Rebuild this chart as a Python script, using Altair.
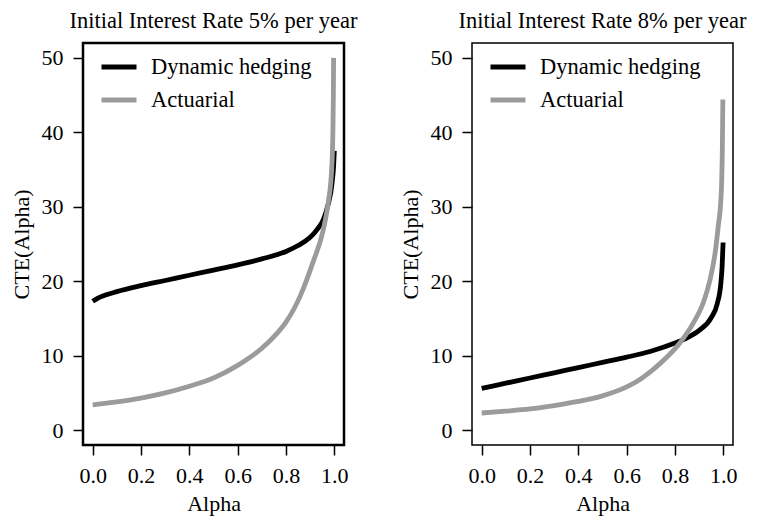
import altair as alt
import pandas as pd

# ---- data ----
SERIES = ["Dynamic hedging", "Actuarial"]
COLORS = ["#000000", "#9b9b9b"]

X_TICKS = [0.0, 0.2, 0.4, 0.6, 0.8, 1.0]
Y_TICKS = [0, 10, 20, 30, 40, 50]

TITLE_5 = "Initial Interest Rate 5% per year"
TITLE_8 = "Initial Interest Rate 8% per year"

# 5% panel
alpha_dyn_5 = [0.00, 0.02, 0.05, 0.10, 0.20, 0.30, 0.40, 0.50, 0.60, 0.70, 0.80, 0.85, 0.90, 0.93, 0.955, 0.975, 0.99, 0.997, 1.00]
cte_dyn_5 = [17.3, 17.7, 18.1, 18.6, 19.4, 20.1, 20.8, 21.5, 22.2, 23.0, 24.0, 24.8, 25.9, 27.0, 28.3, 30.4, 33.0, 35.5, 37.5]
alpha_act_5 = [0.00, 0.10, 0.20, 0.30, 0.40, 0.50, 0.60, 0.70, 0.76, 0.80, 0.86, 0.91, 0.955, 0.975, 0.989, 0.994, 0.996, 0.997]
cte_act_5 = [3.4, 3.8, 4.3, 5.0, 5.9, 7.0, 8.7, 11.0, 12.9, 14.5, 18.1, 22.4, 27.0, 30.6, 35.1, 40.0, 45.0, 50.0]

# 8% panel
alpha_dyn_8 = [0.00, 0.10, 0.20, 0.30, 0.40, 0.50, 0.60, 0.70, 0.80, 0.85, 0.90, 0.95, 0.975, 0.99, 0.995, 0.999]
cte_dyn_8 = [5.6, 6.3, 7.0, 7.7, 8.4, 9.1, 9.8, 10.6, 11.7, 12.4, 13.4, 15.1, 17.0, 19.8, 22.0, 25.2]
alpha_act_8 = [0.00, 0.10, 0.20, 0.30, 0.40, 0.50, 0.60, 0.655, 0.70, 0.74, 0.82, 0.876, 0.917, 0.945, 0.966, 0.979, 0.989, 0.993, 0.996, 0.998]
cte_act_8 = [2.3, 2.55, 2.85, 3.3, 3.85, 4.6, 5.8, 6.8, 7.9, 9.0, 11.7, 14.4, 17.1, 20.2, 23.8, 27.4, 30.5, 33.2, 38.0, 44.4]

FONT = "Liberation Serif"


def make_frame(a, c, s):
    return pd.DataFrame({"alpha": a, "cte": c, "series": s})


def panel(title, da, dc, aa, ac, frame_w):
    df = pd.concat([make_frame(da, dc, SERIES[0]), make_frame(aa, ac, SERIES[1])], ignore_index=True)
    return alt.Chart(df).mark_line(strokeWidth=4.8, strokeCap="butt", interpolate="monotone").encode(
        x=alt.X("alpha:Q",
                scale=alt.Scale(domain=[-0.04, 1.04], nice=False, zero=False),
                axis=alt.Axis(values=X_TICKS, format=".1f", title="Alpha")),
        y=alt.Y("cte:Q",
                scale=alt.Scale(domain=[-2, 52], nice=False, zero=False),
                axis=alt.Axis(values=Y_TICKS, format="d", title="CTE(Alpha)")),
        color=alt.Color("series:N",
                        scale=alt.Scale(domain=SERIES, range=COLORS),
                        legend=alt.Legend(orient="none", legendX=16, legendY=4, title=None,
                                          symbolType="stroke", symbolSize=1225, symbolStrokeWidth=5,
                                          labelFont=FONT, labelFontSize=22.5, labelColor="black",
                                          labelOffset=12, labelLimit=400, rowPadding=1, padding=0)),
    ).properties(
        width=261, height=402,
        title=alt.TitleParams(title, font=FONT, fontSize=22.5, fontWeight="normal",
                              color="black", anchor="middle", offset=11),
        view=alt.ViewBackground(stroke="black", strokeWidth=frame_w, fill="white"),
    )


left = panel(TITLE_5, alpha_dyn_5, cte_dyn_5, alpha_act_5, cte_act_5, 2.5)
right = panel(TITLE_8, alpha_dyn_8, cte_dyn_8, alpha_act_8, cte_act_8, 1.5)

chart = alt.hconcat(left, right, spacing=128, bounds="flush").resolve_scale(
    color="independent"
).resolve_legend(color="independent").properties(
    padding={"left": 0, "top": 0, "right": 0, "bottom": 0},
    background="white",
).configure_axis(
    domain=False, grid=False, tickSize=10, tickWidth=1.5, tickColor="black",
    labelFont=FONT, labelFontSize=22, labelColor="black", labelPadding=10,
    titleFont=FONT, titleFontSize=22, titleFontWeight="normal", titleColor="black",
).configure_axisX(titlePadding=7).configure_axisY(titlePadding=8)

chart.save("out.html", embed_options={"renderer": "svg", "actions": False})
